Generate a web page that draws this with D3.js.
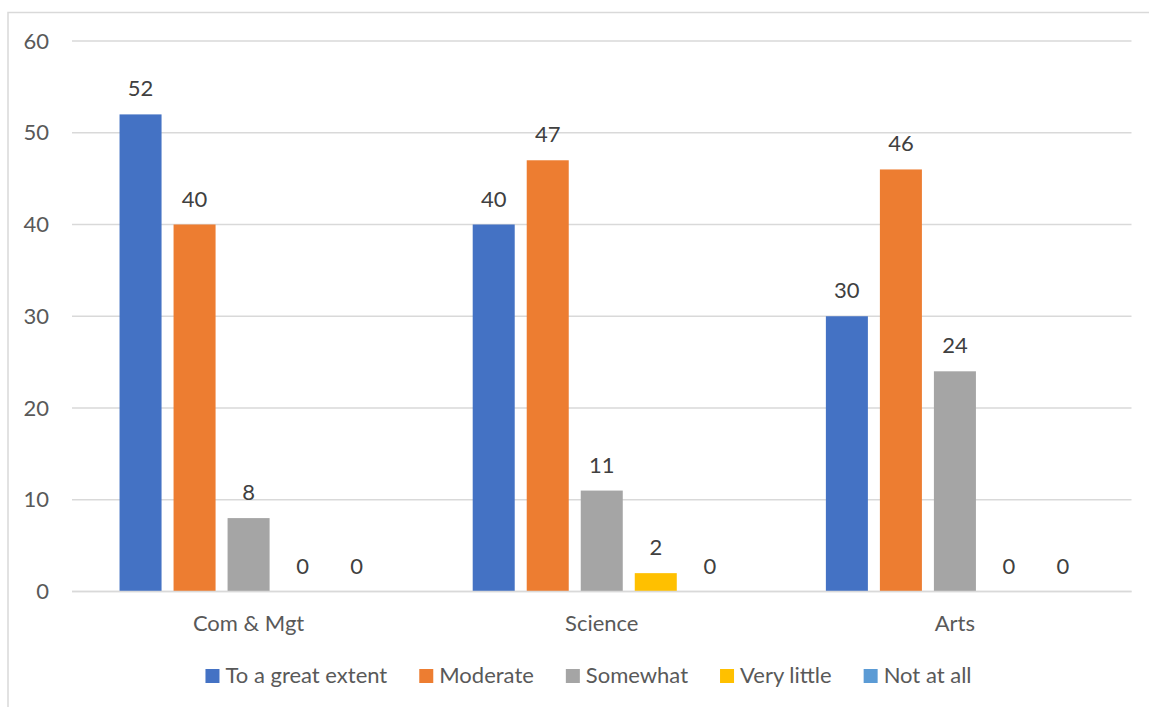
<!DOCTYPE html>
<html>
<head>
<meta charset="utf-8">
<script src="https://cdn.jsdelivr.net/npm/d3@7"></script>
<style>
  html, body { margin: 0; padding: 0; background: #fff; }
  svg { display: block; font-family: Lato, "Open Sans", sans-serif; }
</style>
</head>
<body>
<svg id="chart" width="1149" height="707"></svg>
<script>
const categories = ["Com & Mgt", "Science", "Arts"];
const seriesNames = ["To a great extent", "Moderate", "Somewhat", "Very little", "Not at all"];
const seriesColors = ["#4472C4", "#ED7D31", "#A5A5A5", "#FFC000", "#5B9BD5"];
const greatExtent = [52, 40, 30];
const moderate = [40, 47, 46];
const somewhat = [8, 11, 24];
const veryLittle = [0, 2, 0];
const notAtAll = [0, 0, 0];
const yTicks = [0, 10, 20, 30, 40, 50, 60];

const seriesValues = [greatExtent, moderate, somewhat, veryLittle, notAtAll];

const svg = d3.select("#chart");
const W = 1149, H = 707;
const plot = { left: 72, right: 1131.5, top: 41, bottom: 591.5 };
const FS = 22;

// chart frame (clipped at right/bottom)
svg.append("path")
  .attr("d", `M8,${H} L8,12.5 L${W},12.5`)
  .attr("fill", "none").attr("stroke", "#D9D9D9").attr("stroke-width", 1.5);

const x0 = d3.scaleBand().domain(categories).range([plot.left, plot.right]).paddingInner(0).paddingOuter(0);
const x1 = d3.scaleBand().domain(seriesNames).range([0, x0.bandwidth()]).paddingInner(12 / 54).paddingOuter(0.88);
const y = d3.scaleLinear().domain([0, 60]).range([plot.bottom, plot.top]);

// gridlines
svg.append("g").selectAll("line").data(yTicks).join("line")
  .attr("x1", plot.left).attr("x2", plot.right)
  .attr("y1", d => y(d)).attr("y2", d => y(d))
  .attr("stroke", "#D9D9D9").attr("stroke-width", 1.4);

// y tick labels
svg.append("g").selectAll("text").data(yTicks).join("text")
  .attr("x", 49).attr("y", d => y(d)).attr("dy", "0.35em")
  .attr("text-anchor", "end").attr("fill", "#595959")
  .attr("font-size", FS).text(d => d);

// bars
const rows = [];
categories.forEach((c, ci) => {
  seriesNames.forEach((s, si) => {
    rows.push({ cat: c, ser: s, v: seriesValues[si][ci], color: seriesColors[si] });
  });
});

svg.append("g").selectAll("rect").data(rows).join("rect")
  .attr("x", d => x0(d.cat) + x1(d.ser))
  .attr("width", x1.bandwidth())
  .attr("y", d => y(d.v))
  .attr("height", d => y(0) - y(d.v))
  .attr("fill", d => d.color);

// data labels
svg.append("g").selectAll("text").data(rows).join("text")
  .attr("x", d => x0(d.cat) + x1(d.ser) + x1.bandwidth() / 2)
  .attr("y", d => y(d.v) - 18)
  .attr("text-anchor", "middle").attr("fill", "#404040")
  .attr("font-size", FS).text(d => d.v);

// x axis line
svg.append("line")
  .attr("x1", plot.left).attr("x2", plot.right)
  .attr("y1", y(0)).attr("y2", y(0))
  .attr("stroke", "#D9D9D9").attr("stroke-width", 1.6);

// category labels
svg.append("g").selectAll("text").data(categories).join("text")
  .attr("x", d => x0(d) + x0.bandwidth() / 2)
  .attr("y", 631)
  .attr("text-anchor", "middle").attr("fill", "#595959")
  .attr("font-size", FS).text(d => d);

// legend
const legend = svg.append("g");
const items = legend.selectAll("g").data(seriesNames).join("g");
items.append("rect").attr("width", 14).attr("height", 14).attr("y", 669).attr("fill", (d, i) => seriesColors[i]);
items.append("text").attr("x", 20).attr("y", 683).attr("fill", "#595959")
  .attr("font-size", FS).text(d => d);
const widths = [];
items.each(function () {
  const w = d3.select(this).select("text").node().getComputedTextLength();
  widths.push(20 + w);
});
const gapItems = 32;
const total = d3.sum(widths) + gapItems * (widths.length - 1);
let start = 588.5 - total / 2;
items.attr("transform", (d, i) => {
  const t = `translate(${start},0)`;
  start += widths[i] + gapItems;
  return t;
});
</script>
</body>
</html>
